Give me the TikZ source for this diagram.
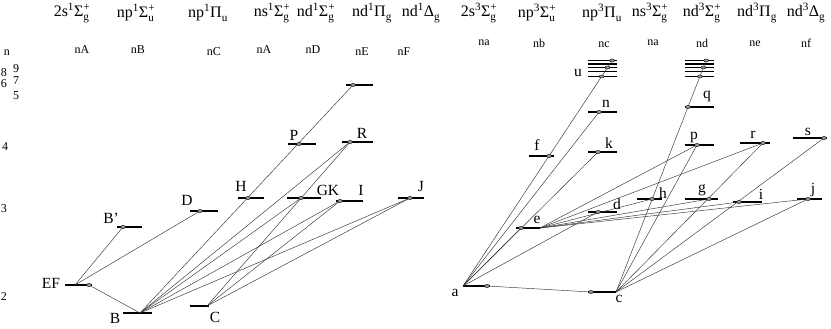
\documentclass[tikz,border=0pt]{standalone}
\usepackage{amsmath}
\usepackage{fontspec}
\setmainfont{Liberation Serif}
\usetikzlibrary{shapes.geometric}
\newcommand\trm[5]{#1\textsuperscript{#2}#3\ensuremath{^{\text{#5}}_{\text{#4}}}}
\newcommand\lvl[5]{\draw[lev] (#2,#4) -- (#3,#4); \coordinate (#1) at (#5,#4);}
\begin{document}
\begin{tikzpicture}[x=1pt,y=-1pt,
  lev/.style={line width=1.8pt},
  tr/.style={line width=0.45pt,draw=black!80},
  dotm/.style={ellipse,draw=black,line width=0.4pt,fill=black!40,minimum width=5pt,minimum height=3pt,inner sep=0pt},
  hdr/.style={font=\fontsize{16}{18}\selectfont,inner sep=0pt},
  col/.style={font=\fontsize{12}{14}\selectfont,inner sep=0pt},
  lbl/.style={font=\fontsize{15.5}{17}\selectfont,inner sep=0pt},
  num/.style={font=\fontsize{12}{14}\selectfont,inner sep=0pt}]
\useasboundingbox (0,0) rectangle (831,329);

% headers
\node[hdr] (h1) at (72,13) {\trm{2s}{1}{Σ}{g}{+}};
\node[hdr] (h2) at (136,13) {\trm{np}{1}{Σ}{u}{+}};
\node[hdr] (h3) at (208,13) {\trm{np}{1}{Π}{u}{}};
\node[hdr] (h4) at (272,13) {\trm{ns}{1}{Σ}{g}{+}};
\node[hdr] (h5) at (316,13) {\trm{nd}{1}{Σ}{g}{+}};
\node[hdr] (h6) at (372,13) {\trm{nd}{1}{Π}{g}{}};
\node[hdr] (h7) at (421,13) {\trm{nd}{1}{Δ}{g}{}};
\node[hdr] (h8) at (479,13) {\trm{2s}{3}{Σ}{g}{+}};
\node[hdr] (h9) at (537,13) {\trm{np}{3}{Σ}{u}{+}};
\node[hdr] (h10) at (602,13) {\trm{np}{3}{Π}{u}{}};
\node[hdr] (h11) at (650,13) {\trm{ns}{3}{Σ}{g}{+}};
\node[hdr] (h12) at (702,13) {\trm{nd}{3}{Σ}{g}{+}};
\node[hdr] (h13) at (757,13) {\trm{nd}{3}{Π}{g}{}};
\node[hdr] (h14) at (806,13) {\trm{nd}{3}{Δ}{g}{}};

% column labels
\node[col] (c1) at (82,50) {nA};
\node[col] (c2) at (138,50) {nB};
\node[col] (c3) at (214,52) {nC};
\node[col] (c4) at (264,50) {nA};
\node[col] (c5) at (313,50) {nD};
\node[col] (c6) at (362,52) {nE};
\node[col] (c7) at (404,52) {nF};
\node[col] (c8) at (484,43) {na};
\node[col] (c9) at (539,43) {nb};
\node[col] (c10) at (604,45) {nc};
\node[col] (c11) at (653,43) {na};
\node[col] (c12) at (702,43) {nd};
\node[col] (c13) at (755,44) {ne};
\node[col] (c14) at (806,43) {nf};

% axis
\node[num] (an) at (7,53) {n};
\node[num] (a9) at (16,69) {9};
\node[num] (a8) at (4,73) {8};
\node[num] (a7) at (16,81) {7};
\node[num] (a6) at (4,84) {6};
\node[num] (a5) at (16,96) {5};
\node[num] (a4) at (5,147) {4};
\node[num] (a3) at (4,209) {3};
\node[num] (a2) at (4,297) {2};

% singlet levels
\lvl{sEF}{65}{92}{285}{89}
\coordinate (sEFo) at (75,285);
\lvl{sB}{123}{152}{313}{140}
\lvl{sC}{190}{209}{306}{207}
\lvl{sBp}{117}{142}{227}{123}
\lvl{sD}{190}{218}{211}{200}
\lvl{sH}{238}{264}{198}{248}
\lvl{sGK}{287}{321}{198}{301}
\lvl{sI}{336}{363}{201}{340}
\lvl{sJ}{398}{424}{198}{410}
\lvl{sP}{288}{316}{144}{299}
\lvl{sR}{342}{373}{142}{350}
\lvl{sT}{346}{373}{85}{353}

% triplet levels
\lvl{taD}{463}{490}{286}{487}
\coordinate (ta) at (463,286);
\lvl{tcD}{588}{616}{292}{591}
\coordinate (tc) at (616,292);
\lvl{te}{516}{540}{228}{521}
\coordinate (teR) at (540,228);
\lvl{tf}{529}{554}{156}{549}
\lvl{tk}{588}{617}{152}{598}
\lvl{tn}{588}{617}{112}{599}
\lvl{td}{588}{617}{212}{598}
\lvl{th}{637}{662}{199}{652}
\lvl{tg}{685}{718}{199}{709}
\lvl{ti}{733}{762}{202}{739}
\lvl{tj}{797}{822}{199}{808}
\lvl{tp}{685}{714}{145}{697}
\lvl{tr}{740}{770}{143}{763}
\lvl{ts}{793}{827}{138}{824}
\lvl{tq}{685}{714}{107}{688}
% stacks
\lvl{u1}{588}{617}{60.5}{612.2}
\lvl{u2}{588}{617}{64}{610}
\lvl{u3}{588}{617}{67.5}{607.5}
\lvl{u4}{588}{617}{71.5}{605}
\lvl{u5}{588}{617}{76.5}{601.6}
\lvl{v1}{685}{714}{60.5}{706.1}
\lvl{v2}{685}{714}{64}{705}
\lvl{v3}{685}{714}{67.5}{703.4}
\lvl{v4}{685}{714}{71.5}{702}
\lvl{v5}{685}{714}{76.5}{699.9}

% singlet transitions
\draw[tr] (sEFo) -- (sBp);
\draw[tr] (sEFo) -- (sD);
\draw[tr] (sEF) -- (sB);
\draw[tr] (sB) -- (sT);
\draw[tr] (sB) -- (sR);
\draw[tr] (sB) -- (sGK);
\draw[tr] (sB) -- (sI);
\draw[tr] (sB) -- (sJ);
\draw[tr] (sC) -- (sR);
\draw[tr] (sC) -- (sI);
\draw[tr] (sC) -- (sJ);

% triplet transitions
\draw[tr] (ta) -- (u1);
\draw[tr] (ta) -- (tn);
\draw[tr] (ta) -- (tk);
\draw[tr] (ta) -- (te);
\draw[tr] (ta) -- (td);
\draw[tr] (taD) -- (tcD);
\draw[tr] (tc) -- (v1);
\draw[tr] (tc) -- (tp);
\draw[tr] (tc) -- (tr);
\draw[tr] (tc) -- (ts);
\draw[tr] (tc) -- (tj);
\draw[tr] (teR) -- (th);
\draw[tr] (teR) -- (tg);
\draw[tr] (teR) -- (ti);
\draw[tr] (teR) -- (tj);
\draw[tr] (teR) -- (tp);
\draw[tr] (teR) -- (tr);

% dots
\foreach \p in {sEF,sBp,sD,sH,sGK,sI,sJ,sP,sR,sT,taD,tcD,te,tf,tk,tn,td,th,tg,ti,tj,tp,tr,ts,tq,u1,u3,u5,v1,v3,v5}
  \node[dotm] at (\p) {};

% level labels
\node[lbl] (lEF) at (51,283) {EF};
\node[lbl] (lB) at (115,318) {B};
\node[lbl] (lC) at (215,317) {C};
\node[lbl] (lBp) at (111,218) {B'};
\node[lbl] (lD) at (187,200) {D};
\node[lbl] (lH) at (241,186) {H};
\node[lbl] (lGK) at (328,190) {GK};
\node[lbl] (lI) at (361,190) {I};
\node[lbl] (lJ) at (421,187) {J};
\node[lbl] (lP) at (294,135) {P};
\node[lbl] (lR) at (362,133) {R};
\node[lbl] (la) at (455,293) {a};
\node[lbl] (lc) at (619,299) {c};
\node[lbl] (le) at (537,220) {e};
\node[lbl] (lf) at (537,145) {f};
\node[lbl] (lk) at (609,143) {k};
\node[lbl] (ln) at (606,104) {n};
\node[lbl] (ld) at (617,204) {d};
\node[lbl] (lh) at (663,193) {h};
\node[lbl] (lg) at (702,190) {g};
\node[lbl] (li) at (761,194) {i};
\node[lbl] (lj) at (813,190) {j};
\node[lbl] (lp) at (694,137) {p};
\node[lbl] (lr) at (753,135) {r};
\node[lbl] (ls) at (808,132) {s};
\node[lbl] (lq) at (707,96) {q};
\node[lbl] (lu) at (578,73) {u};
\end{tikzpicture}
\end{document}
